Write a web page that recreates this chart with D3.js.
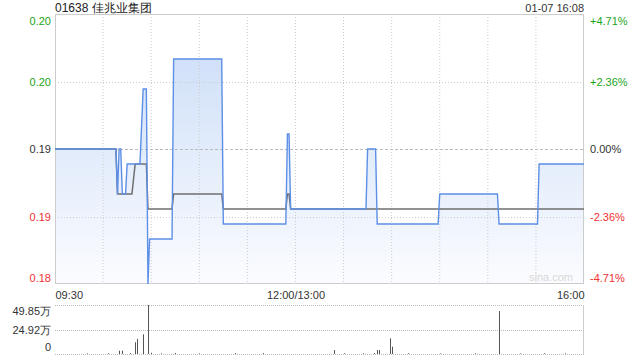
<!DOCTYPE html>
<html><head><meta charset="utf-8">
<script src="https://cdn.jsdelivr.net/npm/d3@7/dist/d3.min.js"></script>
<style>
html,body{margin:0;padding:0;background:#fff;}
svg{display:block;font-family:"Liberation Sans",Arial,sans-serif;}
</style></head>
<body>
<svg id="c" width="640" height="360"></svg>
<script>
// ---- data ----
const title = "01638 佳兆业集团";
const stamp = "01-07 16:08";
const prevClose = 0.191;
const priceMin = 0.182, priceMax = 0.200;
const priceTicks = [0.200, 0.1955, 0.191, 0.1865, 0.182];
const timeTicks = [0, 150, 330];
const timeLabels = ["09:30", "12:00/13:00", "16:00"];
const gridMinutes = [30, 60, 90, 120, 150, 180, 210, 240, 270, 300];
// price line: [minute index, price]
const priceMinutes = [0, 38, 39, 40, 41, 42, 44, 45, 53, 55, 57, 58, 59, 73, 74, 104, 105, 144, 145, 146, 147, 194, 195, 200, 201, 239, 240, 276, 277, 301, 302, 330];
const priceValues  = [0.191, 0.191, 0.188, 0.191, 0.191, 0.188, 0.188, 0.190, 0.190, 0.195, 0.195, 0.182, 0.185, 0.185, 0.197, 0.197, 0.186, 0.186, 0.192, 0.192, 0.187, 0.187, 0.191, 0.191, 0.186, 0.186, 0.188, 0.188, 0.186, 0.186, 0.190, 0.190];
// average price line
const avgMinutes = [0, 38, 39, 48, 50, 57, 58, 73, 74, 104, 105, 144, 145, 146, 147, 330];
const avgValues  = [0.191, 0.191, 0.188, 0.188, 0.190, 0.190, 0.187, 0.187, 0.188, 0.188, 0.187, 0.187, 0.188, 0.188, 0.187, 0.187];
// volume bars
const volMinutes = [20, 33, 40, 42, 47, 50, 51, 55, 58, 60, 66, 75, 90, 112, 130, 174, 180, 192, 199, 201, 202, 209, 210, 220, 240, 262, 277, 290, 305, 318];
const volValues  = [6000, 8000, 34000, 34000, 9000, 120000, 153000, 200000, 498500, 12000, 7000, 10000, 6000, 8000, 9000, 40000, 8000, 7000, 9000, 40000, 40000, 160000, 75000, 8000, 6000, 7000, 437000, 6000, 8000, 7000];
const volMax = 498500;
const volTicks = [0, 249250, 498500];
const volLabels = ["0", "24.92万", "49.85万"];

// ---- layout ----
const L = 55, R = 584, T = 14, B = 284, VT = 305, VB = 354;
const svg = d3.select("#c");
const x = d3.scaleLinear().domain([0, 330]).range([L, R]);
const y = d3.scaleLinear().domain([priceMin, priceMax]).range([B, T]);
const yv = d3.scaleLinear().domain([0, volMax]).range([VB, VT]);

const defs = svg.append("defs");
const grad = defs.append("linearGradient").attr("id", "g").attr("gradientUnits", "userSpaceOnUse")
  .attr("x1", 0).attr("x2", 0).attr("y1", T).attr("y2", B);
grad.append("stop").attr("offset", "0").attr("stop-color", "#c8dbf7");
grad.append("stop").attr("offset", "1").attr("stop-color", "#fbfcff");

// title
svg.append("text").attr("x", L).attr("y", 12).attr("font-size", 12).attr("fill", "#222").text(title);
svg.append("text").attr("x", R).attr("y", 12).attr("font-size", 11).attr("fill", "#333").attr("text-anchor", "end").text(stamp);

// price area
const pts = priceMinutes.map((m, i) => [m, priceValues[i]]);
svg.append("path").datum(pts)
  .attr("d", d3.area().x(d => x(d[0])).y0(B).y1(d => y(d[1])))
  .attr("fill", "url(#g)");

// grid
const grid = svg.append("g");
gridMinutes.forEach(m => {
  grid.append("line").attr("x1", x(m)).attr("x2", x(m)).attr("y1", T).attr("y2", B)
    .attr("stroke", "#ccc").attr("stroke-dasharray", "1,2");
});
priceTicks.slice(1, 4).forEach(p => {
  const mid = p === prevClose;
  grid.append("line").attr("x1", L).attr("x2", R).attr("y1", Math.round(y(p)) + 0.5).attr("y2", Math.round(y(p)) + 0.5)
    .attr("stroke", mid ? "#bbb" : "#ccc").attr("stroke-dasharray", mid ? "3,2" : "1,2");
});
svg.append("rect").attr("x", L + 0.5).attr("y", T + 0.5).attr("width", R - L - 1).attr("height", B - T - 1)
  .attr("fill", "none").attr("stroke", "#ccc");

// watermark
svg.append("text").attr("x", 573).attr("y", 281).attr("font-size", 11).attr("fill", "#d8d8d8")
  .attr("text-anchor", "end").text("sina.com");

// lines
svg.append("path").datum(avgMinutes.map((m, i) => [m, avgValues[i]]))
  .attr("d", d3.line().x(d => x(d[0])).y(d => y(d[1])))
  .attr("fill", "none").attr("stroke", "#6f6f6f").attr("stroke-width", 1.5);
svg.append("path").datum(pts)
  .attr("d", d3.line().x(d => x(d[0])).y(d => y(d[1])))
  .attr("fill", "none").attr("stroke", "#5d8fe6").attr("stroke-width", 1.4);

// left price axis
const colorFor = p => p > prevClose + 1e-9 ? "#1aa51a" : (p < prevClose - 1e-9 ? "#f03030" : "#333");
const fmtP = d3.format(".2f");
const axL = svg.append("g").attr("transform", `translate(${L - 4},0)`)
  .call(d3.axisLeft(y).tickValues(priceTicks).tickSize(0).tickPadding(0).tickFormat(fmtP));
axL.select(".domain").remove();
axL.selectAll("text").attr("font-size", 11).attr("font-family", "Liberation Sans, Arial, sans-serif")
  .attr("fill", d => colorFor(d))
  .attr("dy", (d, i) => i === 0 ? "0.95em" : (i === priceTicks.length - 1 ? "-0.2em" : "0.32em"));

// right pct axis
const fmtPct = p => { const v = (p - prevClose) / prevClose; return Math.abs(v) < 1e-9 ? "0.00%" : d3.format("+.2%")(v).replace("−", "-"); };
const axR = svg.append("g").attr("transform", `translate(${R + 6},0)`)
  .call(d3.axisRight(y).tickValues(priceTicks).tickSize(0).tickPadding(0).tickFormat(fmtPct));
axR.select(".domain").remove();
axR.selectAll("text").attr("font-size", 11).attr("font-family", "Liberation Sans, Arial, sans-serif")
  .attr("fill", d => colorFor(d))
  .attr("dy", (d, i) => i === 0 ? "0.95em" : (i === priceTicks.length - 1 ? "-0.2em" : "0.32em"));

// time axis
const axT = svg.append("g").attr("transform", `translate(0,${B + 15})`)
  .call(d3.axisBottom(x).tickValues(timeTicks).tickSize(0).tickPadding(0).tickFormat((d, i) => timeLabels[i]));
axT.select(".domain").remove();
axT.selectAll("text").attr("font-size", 11).attr("font-family", "Liberation Sans, Arial, sans-serif")
  .attr("fill", "#333").attr("dy", 0)
  .attr("text-anchor", (d, i) => i === 0 ? "start" : (i === timeTicks.length - 1 ? "end" : "middle"));

// volume pane
volTicks.forEach(v => {
  svg.append("line").attr("x1", L).attr("x2", R).attr("y1", Math.round(yv(v)) + 0.5).attr("y2", Math.round(yv(v)) + 0.5)
    .attr("stroke", "#bbb").attr("stroke-dasharray", "1,1");
});
svg.append("line").attr("x1", R - 0.5).attr("x2", R - 0.5).attr("y1", VT).attr("y2", VB).attr("stroke", "#ccc");
svg.append("g").selectAll("line").data(volMinutes.map((m, i) => [m, volValues[i]])).join("line")
  .attr("x1", d => Math.round(x(d[0])) + 0.5).attr("x2", d => Math.round(x(d[0])) + 0.5)
  .attr("y1", VB).attr("y2", d => yv(d[1]))
  .attr("stroke", "#555").attr("stroke-width", 1);
const axV = svg.append("g").attr("transform", `translate(${L - 4},0)`)
  .call(d3.axisLeft(yv).tickValues(volTicks).tickSize(0).tickPadding(0).tickFormat((d, i) => volLabels[i]));
axV.select(".domain").remove();
axV.selectAll("text").attr("font-size", 11).attr("font-family", "Liberation Sans, Arial, sans-serif")
  .attr("fill", "#333")
  .attr("dy", (d, i) => i === 0 ? "-0.3em" : (i === volTicks.length - 1 ? "0.9em" : "0.32em"));
</script>
</body></html>
